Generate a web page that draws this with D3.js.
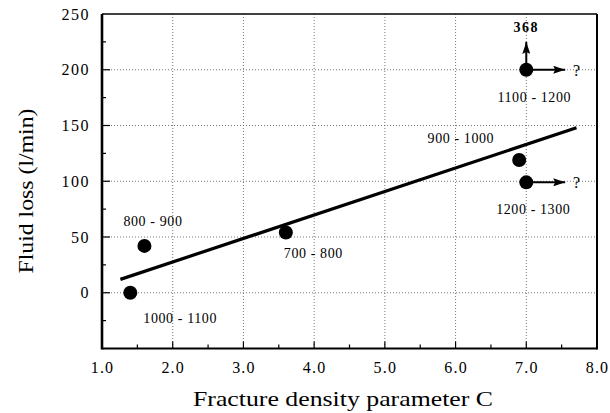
<!DOCTYPE html>
<html><head><meta charset="utf-8">
<script src="https://cdn.jsdelivr.net/npm/d3@7"></script>
<style>
html,body{margin:0;padding:0;background:#fff;}
svg text{font-family:"Liberation Serif","Times New Roman",serif !important;fill:#000;}
</style></head>
<body><svg id="chart" width="610" height="413"></svg>
<script>
// ---- data ----
const pointX = [1.4, 1.6, 3.6, 6.9, 7.0, 7.0];
const pointY = [0, 42, 54, 119, 99, 200];
const pointLabels = ["1000 - 1100", "800 - 900", "700 - 800", "900 - 1000", "1200 - 1300", "1100 - 1200"];
const fitX = [1.26, 7.71];
const fitY = [12, 148];
const xTickValues = [1, 2, 3, 4, 5, 6, 7, 8];
const yTickValues = [0, 50, 100, 150, 200, 250];
const offscaleValue = "368";
const xTitle = "Fracture density parameter C";
const yTitle = "Fluid loss (l/min)";

// ---- layout ----
const SERIF = '"Liberation Serif", "Times New Roman", serif';
const svg = d3.select("#chart");
const L = 102, R = 597, T = 14, B = 348.5;
const x = d3.scaleLinear().domain([1, 8]).range([L, R]);
const y = d3.scaleLinear().domain([-50, 250]).range([B, T]);

// gridlines (dotted)
const grid = svg.append("g").attr("stroke", "#555").attr("stroke-width", 0.8).attr("stroke-dasharray", "1,2");
grid.selectAll("line.v").data(xTickValues.filter(d => d > 1 && d < 8)).join("line")
  .attr("x1", d => x(d)).attr("x2", d => x(d)).attr("y1", T).attr("y2", B);
grid.selectAll("line.h").data(yTickValues.filter(d => d < 250)).join("line")
  .attr("x1", L).attr("x2", R).attr("y1", d => y(d)).attr("y2", d => y(d));

// axes
const xAxis = d3.axisBottom(x).tickValues(xTickValues).tickFormat(d3.format(".1f")).tickSize(0).tickPadding(13);
const gx = svg.append("g").attr("transform", `translate(0,${B})`).call(xAxis);
gx.attr("font-family", null).attr("font-size", null);
gx.select(".domain").remove();
gx.selectAll("text").style("font-family", SERIF).style("font-size", "16px").attr("letter-spacing", 1.2);

const yAxis = d3.axisLeft(y).tickValues(yTickValues).tickSize(0).tickPadding(12);
const gy = svg.append("g").attr("transform", `translate(${L},0)`).call(yAxis);
gy.attr("font-family", null).attr("font-size", null);
gy.select(".domain").remove();
gy.selectAll("text").style("font-family", SERIF).style("font-size", "16px").attr("letter-spacing", 1.5);

// inward ticks
const minorX = d3.range(1.5, 8, 0.5);
svg.append("g").selectAll("line").data(minorX).join("line")
  .attr("x1", d => x(d)).attr("x2", d => x(d)).attr("y1", B).attr("y2", d => Number.isInteger(d) ? B - 7 : B - 4)
  .attr("stroke", "#000").attr("stroke-width", 1.2);
const minorY = d3.range(-25, 250, 25);
svg.append("g").selectAll("line").data(minorY).join("line")
  .attr("x1", L).attr("x2", d => d % 50 === 0 ? L + 8 : L + 4).attr("y1", d => y(d)).attr("y2", d => y(d))
  .attr("stroke", "#000").attr("stroke-width", 1.2);

// frame
svg.append("line").attr("x1", L).attr("x2", L).attr("y1", T).attr("y2", B + 1).attr("stroke", "#000").attr("stroke-width", 2.6);
svg.append("line").attr("x1", L).attr("x2", R).attr("y1", B).attr("y2", B).attr("stroke", "#000").attr("stroke-width", 2);
svg.append("line").attr("x1", R).attr("x2", R).attr("y1", T).attr("y2", B + 1).attr("stroke", "#000").attr("stroke-width", 2);
svg.append("line").attr("x1", L).attr("x2", R).attr("y1", T).attr("y2", T).attr("stroke", "#000").attr("stroke-width", 1.6);

// fit line
svg.append("line")
  .attr("x1", x(fitX[0])).attr("y1", y(fitY[0])).attr("x2", x(fitX[1])).attr("y2", y(fitY[1]))
  .attr("stroke", "#000").attr("stroke-width", 3.2);

// arrows
const defs = svg.append("defs");
defs.append("marker").attr("id", "ah").attr("viewBox", "0 0 12 8").attr("refX", 12).attr("refY", 4)
  .attr("markerWidth", 13).attr("markerHeight", 8).attr("markerUnits", "userSpaceOnUse").attr("orient", "auto")
  .append("path").attr("d", "M0,0 L12,4 L0,8 L2,4 Z").attr("fill", "#000");
const arrowG = svg.append("g").attr("stroke", "#000").attr("stroke-width", 2).attr("fill", "none");
[4, 5].forEach(i => {
  arrowG.append("line").attr("x1", x(pointX[i])).attr("y1", y(pointY[i]))
    .attr("x2", x(7.55)).attr("y2", y(pointY[i])).attr("marker-end", "url(#ah)");
  svg.append("text").attr("x", x(7.66)).attr("y", y(pointY[i]) + 6).style("font-size", "16px").text("?");
});
arrowG.append("line").attr("x1", x(pointX[5])).attr("y1", y(pointY[5]))
  .attr("x2", x(pointX[5])).attr("y2", y(225)).attr("marker-end", "url(#ah)");
svg.append("text").attr("x", x(pointX[5])).attr("y", y(233.5)).attr("text-anchor", "middle")
  .style("font-size", "14px").style("font-weight", "bold").attr("letter-spacing", 1.5).text(offscaleValue);

// points
svg.append("g").selectAll("circle").data(pointX).join("circle")
  .attr("cx", (d, i) => x(d)).attr("cy", (d, i) => y(pointY[i])).attr("r", 7).attr("fill", "#000");

// point labels
const labelPos = [
  {dx: 13, dy: 30, a: "start"},
  {dx: -21, dy: -20, a: "start"},
  {dx: -2, dy: 25, a: "start"},
  {dx: -25, dy: -17, a: "end"},
  {dx: 7, dy: 32, a: "middle"},
  {dx: 8, dy: 32, a: "middle"}
];
svg.append("g").selectAll("text").data(pointLabels).join("text")
  .attr("x", (d, i) => x(pointX[i]) + labelPos[i].dx)
  .attr("y", (d, i) => y(pointY[i]) + labelPos[i].dy)
  .attr("text-anchor", (d, i) => labelPos[i].a)
  .style("font-size", "14px").attr("letter-spacing", 0.6).text(d => d);

// axis titles
svg.append("text").attr("x", 343).attr("y", 406).attr("text-anchor", "middle")
  .style("font-size", "21px").attr("textLength", 300).attr("lengthAdjust", "spacingAndGlyphs").text(xTitle);
svg.append("text").attr("transform", `translate(33,${191}) rotate(-90)`).attr("text-anchor", "middle")
  .style("font-size", "22px").attr("textLength", 165).attr("lengthAdjust", "spacingAndGlyphs").text(yTitle);
</script></body></html>
